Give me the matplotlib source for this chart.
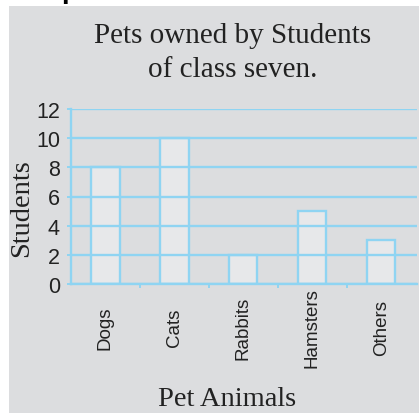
import matplotlib
matplotlib.use("Agg")
import matplotlib.pyplot as plt
from matplotlib.patches import Rectangle

categories = ["Dogs", "Cats", "Rabbits", "Hamsters", "Others"]
students = [8, 10, 2, 5, 3]
yticks = [0, 2, 4, 6, 8, 10, 12]
title_lines = ["Pets owned by Students", "of class seven."]

W, H = 419, 414
fig = plt.figure(figsize=(W / 100, H / 100), dpi=100)
fig.patch.set_facecolor("white")

panel = "#dcdddf"
blue = "#8fd4f2"
barfill = "#e7e8ea"

def fx(px):
    return px / W

def fy(py):
    return 1 - py / H

fig.patches.append(Rectangle((fx(9), 0), 1 - fx(9), fy(7), transform=fig.transFigure,
                             facecolor=panel, edgecolor="none", zorder=-5))

ax = fig.add_axes([fx(71), fy(285), fx(417) - fx(71), fy(110) - fy(285)])
ax.set_zorder(1)
ax.patch.set_visible(False)
x = list(range(len(categories)))
ax.bar(x, students, width=0.41, color=barfill, edgecolor=blue, linewidth=1.7, zorder=1)
ax.set_xlim(-0.5, 4.52)
ax.set_ylim(0, 12)
ax.set_yticks(yticks)
ax.set_yticklabels([str(v) for v in yticks], family="Liberation Sans", fontsize=15.5, color="#222222")
ax.yaxis.grid(True, color=blue, linewidth=1.7, zorder=3)
ax.set_axisbelow(False)
for s in ["top", "right"]:
    ax.spines[s].set_visible(False)
ax.spines["left"].set_color(blue)
ax.spines["left"].set_linewidth(1.7)
ax.spines["bottom"].set_color(blue)
ax.spines["bottom"].set_linewidth(1.7)
ax.tick_params(axis="y", length=3, color=blue, width=1.4, pad=5)

ax.set_xticks([0.5, 1.5, 2.5, 3.5])
ax.set_xticklabels([])
ax.tick_params(axis="x", which="major", length=3, color=blue, width=1.4)
ax.set_xticks(x, minor=True)
ax.set_xticklabels(categories, minor=True, rotation=90, family="Liberation Sans",
                   fontsize=13.5, color="#222222", va="center", ha="center")
ax.tick_params(axis="x", which="minor", length=0, pad=31)

fig.text(fx(233), fy(43), title_lines[0], family="Liberation Serif", fontsize=21,
         ha="center", va="baseline", color="#222222")
fig.text(fx(233), fy(77), title_lines[1], family="Liberation Serif", fontsize=21,
         ha="center", va="baseline", color="#222222")
fig.text(fx(22), fy(208), "Students", family="Liberation Serif", fontsize=20.5,
         rotation=90, ha="center", va="center", color="#222222")
fig.text(fx(227), fy(406), "Pet Animals", family="Liberation Serif", fontsize=20.5,
         ha="center", va="baseline", color="#222222")
fig.text(fx(70), fy(-2), "p", family="Liberation Sans", fontweight="bold", fontsize=20,
         ha="center", va="baseline", color="black")

fig.savefig("out.png", dpi=100, facecolor="white")
